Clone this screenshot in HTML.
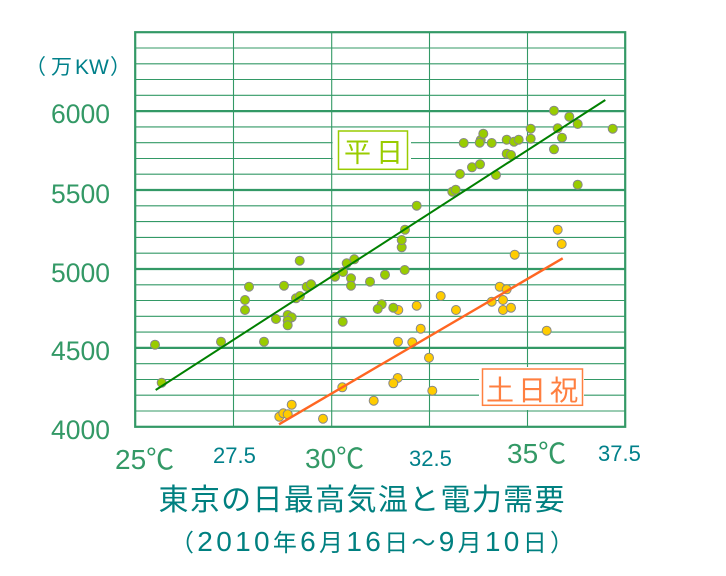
<!DOCTYPE html>
<html><head><meta charset="utf-8"><style>
html,body{margin:0;padding:0;background:#fff;}
svg{display:block;}
</style></head><body>
<svg width="726" height="576" viewBox="0 0 726 576" xmlns="http://www.w3.org/2000/svg">
<rect x="0" y="0" width="726" height="576" fill="#fff"/>
<g stroke="#339966" fill="none">
<g stroke-width="1.1">
<line x1="135" y1="48.0" x2="625" y2="48.0"/>
<line x1="135" y1="63.8" x2="625" y2="63.8"/>
<line x1="135" y1="79.5" x2="625" y2="79.5"/>
<line x1="135" y1="95.3" x2="625" y2="95.3"/>
<line x1="135" y1="126.9" x2="625" y2="126.9"/>
<line x1="135" y1="142.7" x2="625" y2="142.7"/>
<line x1="135" y1="158.5" x2="625" y2="158.5"/>
<line x1="135" y1="174.2" x2="625" y2="174.2"/>
<line x1="135" y1="205.8" x2="625" y2="205.8"/>
<line x1="135" y1="221.6" x2="625" y2="221.6"/>
<line x1="135" y1="237.4" x2="625" y2="237.4"/>
<line x1="135" y1="253.2" x2="625" y2="253.2"/>
<line x1="135" y1="284.8" x2="625" y2="284.8"/>
<line x1="135" y1="300.5" x2="625" y2="300.5"/>
<line x1="135" y1="316.3" x2="625" y2="316.3"/>
<line x1="135" y1="332.1" x2="625" y2="332.1"/>
<line x1="135" y1="363.7" x2="625" y2="363.7"/>
<line x1="135" y1="379.5" x2="625" y2="379.5"/>
<line x1="135" y1="395.2" x2="625" y2="395.2"/>
<line x1="135" y1="411.0" x2="625" y2="411.0"/>
<line x1="233.5" y1="32" x2="233.5" y2="427"/>
<line x1="331.7" y1="32" x2="331.7" y2="427"/>
<line x1="429.5" y1="32" x2="429.5" y2="427"/>
<line x1="527.5" y1="32" x2="527.5" y2="427"/>
</g>
<g stroke-width="2.2">
<line x1="135" y1="111.1" x2="625" y2="111.1"/>
<line x1="135" y1="190.0" x2="625" y2="190.0"/>
<line x1="135" y1="269.0" x2="625" y2="269.0"/>
<line x1="135" y1="347.9" x2="625" y2="347.9"/>
<rect x="135.2" y="32.2" width="490" height="394.6"/>
</g>
</g>
<rect x="332.6" y="129" width="78.4" height="42" fill="#fff"/>
<rect x="479" y="367" width="105" height="43" fill="#fff"/>
<rect x="338.5" y="131" width="69" height="38.3" fill="#fff" stroke="#99cc00" stroke-width="1.5"/>
<rect x="482.5" y="369" width="100" height="36.3" fill="#fff" stroke="#ff8040" stroke-width="1.5"/>
<text x="344" y="162" font-family="'Liberation Sans','Noto Sans CJK JP',sans-serif" font-size="27" letter-spacing="5" fill="#99cc00">平日</text>
<text x="486" y="400" font-family="'Liberation Sans','Noto Sans CJK JP',sans-serif" font-size="28" letter-spacing="4" fill="#ff7f40">土日祝</text>
<g fill="#ffcc00" stroke="#888" stroke-width="1">
<circle cx="279.3" cy="416.7" r="4.5"/><circle cx="283.3" cy="413.3" r="4.5"/><circle cx="287.7" cy="414.3" r="4.5"/>
<circle cx="291.7" cy="404.7" r="4.5"/><circle cx="323" cy="418.7" r="4.5"/><circle cx="342.3" cy="387.3" r="4.5"/>
<circle cx="373.7" cy="400.7" r="4.5"/><circle cx="561.7" cy="244" r="4.5"/><circle cx="514.7" cy="254.7" r="4.5"/>
<circle cx="398.3" cy="310" r="4.5"/><circle cx="416.7" cy="305.7" r="4.5"/><circle cx="440.7" cy="296" r="4.5"/>
<circle cx="456" cy="310" r="4.5"/><circle cx="420.7" cy="328.7" r="4.5"/><circle cx="398" cy="341.7" r="4.5"/>
<circle cx="412.3" cy="342.3" r="4.5"/><circle cx="429" cy="357.7" r="4.5"/><circle cx="397.7" cy="378" r="4.5"/>
<circle cx="393.3" cy="383.3" r="4.5"/><circle cx="432.3" cy="390.7" r="4.5"/><circle cx="499.7" cy="286.7" r="4.5"/>
<circle cx="506.7" cy="289.3" r="4.5"/><circle cx="491.7" cy="301.7" r="4.5"/><circle cx="503" cy="300" r="4.5"/>
<circle cx="503" cy="310" r="4.5"/><circle cx="511" cy="307.7" r="4.5"/><circle cx="546.7" cy="330.7" r="4.5"/>
<circle cx="557.7" cy="229.7" r="4.5"/>
</g>
<g fill="#99cc00" stroke="#888" stroke-width="1">
<circle cx="155" cy="344.7" r="4.5"/><circle cx="161.7" cy="382.7" r="4.5"/><circle cx="221" cy="341.7" r="4.5"/>
<circle cx="264" cy="341.7" r="4.5"/><circle cx="299.7" cy="260.7" r="4.5"/><circle cx="249" cy="286.7" r="4.5"/>
<circle cx="245" cy="300" r="4.5"/><circle cx="245" cy="310" r="4.5"/><circle cx="284" cy="285.7" r="4.5"/>
<circle cx="276" cy="319" r="4.5"/><circle cx="287.7" cy="315" r="4.5"/><circle cx="291.7" cy="317.3" r="4.5"/>
<circle cx="287.7" cy="320.7" r="4.5"/><circle cx="287.7" cy="325.3" r="4.5"/><circle cx="296" cy="298.3" r="4.5"/>
<circle cx="300" cy="296" r="4.5"/><circle cx="306.7" cy="286.7" r="4.5"/><circle cx="311" cy="284.3" r="4.5"/>
<circle cx="335" cy="276.7" r="4.5"/><circle cx="343" cy="272" r="4.5"/><circle cx="346.7" cy="263.3" r="4.5"/>
<circle cx="354.3" cy="259.3" r="4.5"/><circle cx="351" cy="278.3" r="4.5"/><circle cx="351" cy="285.7" r="4.5"/>
<circle cx="342.7" cy="321.7" r="4.5"/><circle cx="370" cy="281.7" r="4.5"/><circle cx="385" cy="274.7" r="4.5"/>
<circle cx="381.7" cy="304.3" r="4.5"/><circle cx="377.7" cy="309" r="4.5"/><circle cx="393.3" cy="307.7" r="4.5"/>
<circle cx="401.7" cy="247.3" r="4.5"/><circle cx="404.7" cy="270" r="4.5"/><circle cx="401.7" cy="240" r="4.5"/>
<circle cx="405" cy="229.7" r="4.5"/><circle cx="416.7" cy="205.7" r="4.5"/><circle cx="452.3" cy="191.7" r="4.5"/>
<circle cx="455.7" cy="189.7" r="4.5"/><circle cx="460" cy="174" r="4.5"/><circle cx="472" cy="167.3" r="4.5"/>
<circle cx="480" cy="164.3" r="4.5"/><circle cx="496" cy="175" r="4.5"/><circle cx="463.7" cy="143" r="4.5"/>
<circle cx="480.7" cy="140" r="4.5"/><circle cx="479.7" cy="142.7" r="4.5"/><circle cx="483.3" cy="133.7" r="4.5"/>
<circle cx="491.7" cy="143" r="4.5"/><circle cx="506.7" cy="139.7" r="4.5"/><circle cx="514" cy="141.7" r="4.5"/>
<circle cx="518.7" cy="139.7" r="4.5"/><circle cx="530.7" cy="128.7" r="4.5"/><circle cx="530.7" cy="138.7" r="4.5"/>
<circle cx="506.7" cy="153.7" r="4.5"/><circle cx="511" cy="155" r="4.5"/><circle cx="554" cy="110.7" r="4.5"/>
<circle cx="569.3" cy="116.7" r="4.5"/><circle cx="557.7" cy="128.3" r="4.5"/><circle cx="577.7" cy="124" r="4.5"/>
<circle cx="562" cy="137.7" r="4.5"/><circle cx="554" cy="149.3" r="4.5"/><circle cx="612.7" cy="128.7" r="4.5"/>
<circle cx="577.7" cy="184.7" r="4.5"/>
</g>
<line x1="155.7" y1="390" x2="605.3" y2="100" stroke="#008000" stroke-width="2"/>
<line x1="279" y1="424.3" x2="562.7" y2="258.3" stroke="#ff6622" stroke-width="2.4"/>
<g font-family="'Liberation Sans',sans-serif" font-size="26.5" fill="#339966" text-anchor="end">
<text x="110" y="123">6000</text>
<text x="110" y="203">5500</text>
<text x="110" y="282">5000</text>
<text x="110" y="360">4500</text>
<text x="110" y="439">4000</text>
</g>
<g font-family="'Liberation Sans','Noto Sans CJK JP',sans-serif" font-size="21" fill="#00808a">
<text x="25" y="74">（</text>
<text x="51" y="74">万</text>
<text x="75" y="74">KW</text>
<text x="110" y="74">）</text>
</g>
<g font-family="'Liberation Sans','Noto Sans CJK JP',sans-serif">
<text x="115" y="469" font-size="28" fill="#339966">25℃</text>
<text x="213" y="463" font-size="22" fill="#00808a">27.5</text>
<text x="305" y="468" font-size="28" fill="#339966">30℃</text>
<text x="409" y="466" font-size="22" fill="#00808a">32.5</text>
<text x="507" y="463" font-size="28" fill="#339966">35℃</text>
<text x="598" y="461" font-size="22" fill="#00808a">37.5</text>
</g>
<g font-family="'Liberation Sans','Noto Sans CJK JP',sans-serif" fill="#008080">
<text x="158.5" y="510" font-size="30" textLength="406" lengthAdjust="spacing">東京の日最高気温と電力需要</text>
<text x="170" y="551" font-size="24" textLength="404" lengthAdjust="spacing">（<tspan font-size="28">2010</tspan>年<tspan font-size="28">6</tspan>月<tspan font-size="28">16</tspan>日～<tspan font-size="28">9</tspan>月<tspan font-size="28">10</tspan>日）</text>
</g>
</svg>
</body></html>
